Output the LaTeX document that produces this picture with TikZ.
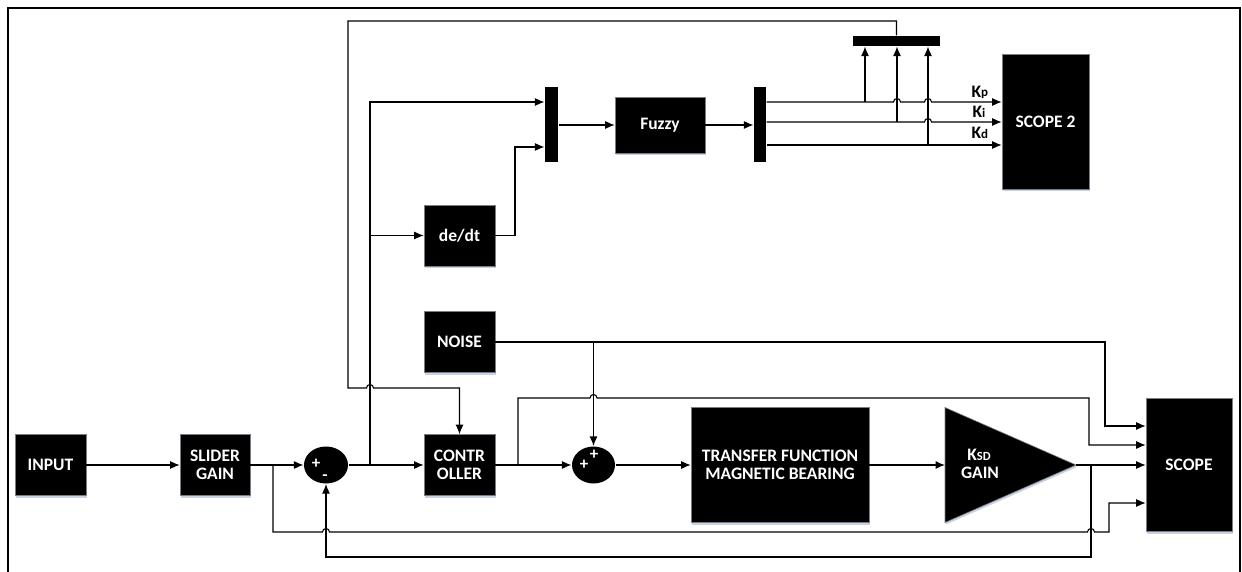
\documentclass[tikz,border=0pt]{standalone}
\usepackage{fontspec}
\setmainfont{Carlito}
\usetikzlibrary{arrows.meta,shapes.geometric,shadows}
\definecolor{shadowblue}{RGB}{200,210,226}

\begin{document}
\begin{tikzpicture}[x = 1pt,
  y = 1pt,
  line width = 1.1pt,
  >={Latex[length=9.5pt,width=8pt]},
  blk/.style = {draw=shadowblue!60!black, line width=0.6pt, fill=black, text=white,
    font=\bfseries\fontsize{17.5}{18}\selectfont, align=center, inner sep=0pt,
    drop shadow={shadow xshift=1pt, shadow yshift=-2pt, fill=shadowblue, opacity=1}},
  muxbar/.style = {fill=black, draw=none, inner sep=0pt},
  sumblk/.style = {ellipse, fill=black, inner sep=0pt},
  sgn/.style = {text=white, font=\bfseries\fontsize{17}{17}\selectfont, inner sep=0pt},
  klbl/.style = {font=\bfseries\fontsize{17.5}{18}\selectfont, inner sep=0pt, anchor=base west}]

  % jump radius
  \def\jr{3.5}

  \useasboundingbox (0,0) rectangle (1242,571);

  % frame
  \draw[line width=2pt] (8,-10) -- (8,563) -- (1240,563) -- (1240,-10);

  % main path blocks
  \node[blk, minimum width=71pt, minimum height=61pt] (input) at (50.5,106) {INPUT};
  \node[blk, minimum width=70pt, minimum height=61pt] (slider) at (215,106) {SLIDER\\GAIN};
  \node[sumblk, minimum width=44pt, minimum height=37pt] (sum1) at (326,106) {};
  \node[blk, minimum width=71pt, minimum height=61pt] (ctrl) at (459.5,106) {CONTR\\OLLER};
  \node[sumblk, minimum width=43pt, minimum height=37pt] (sum2) at (593.5,106) {};
  \node[blk, minimum width=178pt, minimum height=115pt] (tf) at (780,106)
    {TRANSFER FUNCTION\\MAGNETIC BEARING};
  \node[blk, minimum width=86pt, minimum height=133pt] (scope) at (1189,106) {SCOPE};
  \node[blk, minimum width=71pt, minimum height=61pt] (noise) at (459.5,229) {NOISE};

  % signs
  \node[sgn] (s1p) at (316,107) {+};
  \node[sgn] (s1m) at (325,93) {-};
  \node[sgn] (s2a) at (584,106) {+};
  \node[sgn] (s2b) at (594,116) {+};

  % gain triangle
  \coordinate (gin) at (945,106);
  \coordinate (gout) at (1076,106);
  \filldraw[fill=black, draw=shadowblue!60!black, line width=0.6pt,
    drop shadow={shadow xshift=1pt, shadow yshift=-2pt, fill=shadowblue, opacity=1}]
    (945,163.5) -- (gout) -- (945,48.5) -- cycle;
  \node[sgn, font=\bfseries\fontsize{17.5}{18}\selectfont] (ksd) at (979,116)
    {K{\fontsize{12.5}{12}\selectfont SD}};
  \node[sgn, font=\bfseries\fontsize{17.5}{18}\selectfont] (gaintxt) at (980,98) {GAIN};

  % fuzzy part
  \node[blk, minimum width=71pt, minimum height=61pt] (dedt) at (459.5,335.5) {de/dt};
  \node[muxbar, minimum width=13pt, minimum height=75pt] (mux1) at (551.5,446) {};
  \node[blk, minimum width=90pt, minimum height=56pt] (fuzzy) at (660,446) {Fuzzy};
  \node[muxbar, minimum width=12pt, minimum height=75pt] (mux2) at (760,446) {};
  \node[muxbar, minimum width=87pt, minimum height=10pt] (mux3) at (896.5,530) {};
  \node[blk, minimum width=87pt, minimum height=135pt] (scope2) at (1045.5,449.5) {SCOPE 2};

  % branch points
  \coordinate (sb) at (273,106);
  \coordinate (eb) at (370,106);
  \coordinate (cb) at (518,106);
  \coordinate (nb) at (593.5,229);
  \coordinate (gb) at (1091,106);
  \coordinate (kp) at ([yshift=23pt]mux2.east);
  \coordinate (ki) at ([yshift=3pt]mux2.east);
  \coordinate (kd) at ([yshift=-20pt]mux2.east);
  \coordinate (sc1) at ([yshift=39pt]scope.west);
  \coordinate (sc2) at ([yshift=20pt]scope.west);
  \coordinate (sc4) at ([yshift=-38pt]scope.west);

  % forward path
  \draw[->] (input) -- (slider);
  \draw[->] (slider) -- (sum1);
  \draw[->] (sum1) -- (ctrl);
  \draw[->] (ctrl) -- (sum2);
  \draw[->] (sum2) -- (tf);
  \draw[->] (tf) -- (gin);
  \draw[->] (gout) -- (scope);

  % noise
  \draw[->] (noise) -- (1105,229) |- (sc1);
  \draw[->] (nb) -- (sum2);

  % controller output to scope
  \draw[->] (cb) -- (518,173) -- (593.5-\jr,173) arc[start angle=180, end angle=0, radius=\jr]
  -- (1089,173) |- (sc2);

  % feedback and slider output
  \draw[->] (gb) -- (1091,14) -| (sum1);
  \draw[->] (sb) -- (273,39) -- (326-\jr,39) arc[start angle=180, end angle=0, radius=\jr]
  -- (1091-\jr,39) arc[start angle=180, end angle=0, radius=\jr] -- (1109,39) |- (sc4);

  % error to fuzzy
  \draw[->] (eb) |- ([yshift=23pt]mux1.west);
  \draw[->] (eb |- dedt) -- (dedt);
  \draw[->] (dedt) -- (515,335.5) |- ([yshift=-22pt]mux1.west);
  \draw[->] (mux1) -- (fuzzy);
  \draw[->] (fuzzy) -- (mux2);

  % gains to scope 2
  \draw[->] (kp) -- (897-\jr,469) arc[start angle=180, end angle=0, radius=\jr]
  -- (928-\jr,469) arc[start angle=180, end angle=0, radius=\jr] -- (scope2.west |- kp);
  \draw[->] (ki) -- (928-\jr,449) arc[start angle=180, end angle=0, radius=\jr]
  -- (scope2.west |- ki);
  \draw[->] (kd) -- (scope2.west |- kd);
  \node[klbl] (kplbl) at (971,473) {K{\fontsize{13}{13}\selectfont\raisebox{1.5pt}{p}}};
  \node[klbl] (kilbl) at (972,453) {K{\fontsize{13}{13}\selectfont i}};
  \node[klbl] (kdlbl) at (971,432) {K{\fontsize{13}{13}\selectfont d}};

  % gains to the controller
  \draw[->] (865,469) -- (865,0 |- mux3.south);
  \draw[->] (897,449) -- (897,0 |- mux3.south);
  \draw[->] (928,426) -- (928,0 |- mux3.south);
  \draw[->] (mux3.north) -- (896.5,550) -| (348,183)
  -- (370-\jr,183) arc[start angle=180, end angle=0, radius=\jr] -- (ctrl.north |- 0,183)
  -- (ctrl);

\end{tikzpicture}
\end{document}
